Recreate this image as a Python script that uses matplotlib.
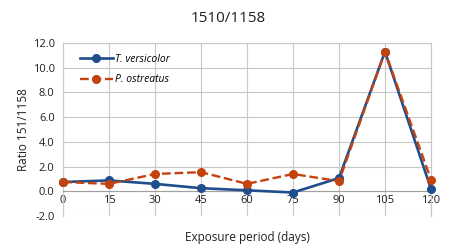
import numpy as np
import matplotlib
matplotlib.use("Agg")
import matplotlib.pyplot as plt

days = [0, 15, 30, 45, 60, 75, 90, 105, 120]
versicolor = [0.75, 0.88, 0.6, 0.25, 0.08, -0.1, 1.07, 11.3, 0.18]
ostreatus = [0.75, 0.6, 1.4, 1.55, 0.6, 1.4, 0.82, 11.3, 0.95]
y_ticks = np.arange(-2, 12.1, 2)

plt.rcParams['font.family'] = ['Open Sans', 'DejaVu Sans']

fig = plt.figure(figsize=(4.54, 2.49), dpi=100)
ax = fig.add_axes([63 / 454, 1 - 216 / 249, (431 - 63) / 454, (216 - 43) / 249])

ax.plot(days, versicolor, color='#1f4e8c', lw=1.9, marker='o', ms=5.5,
        label='T. versicolor', zorder=3)
ax.plot(days, ostreatus, color='#c4420e', lw=1.7, ls='--', marker='o', ms=5.5,
        label='P. ostreatus', zorder=4)

ax.set_xlim(0, 120)
ax.set_ylim(-2, 12)
ax.set_xticks(days)
ax.set_yticks(y_ticks)
ax.set_yticklabels([f'{v:.1f}' for v in y_ticks])
ax.grid(True, color='#c8c8c8', lw=0.8)
ax.set_axisbelow(True)

for s in ['top', 'right', 'left']:
    ax.spines[s].set_color('#c8c8c8')
ax.spines['bottom'].set_position(('data', 0))
ax.spines['bottom'].set_color('#a0a0a0')
ax.tick_params(length=0, labelsize=8, colors='#202020')
ax.tick_params(axis='x', pad=3)
ax.tick_params(axis='y', pad=6)
for ln in ax.lines:
    ln.set_clip_on(False)

ax.set_ylabel('Ratio 151/1158', fontsize=8.5, color='#202020')
ax.yaxis.set_label_coords(-0.09, 0.5)
fig.text(247 / 454, 1 - 237 / 249, 'Exposure period (days)', ha='center',
         va='center', fontsize=8.5, color='#202020')
fig.text(228 / 454, 1 - 18 / 249, '1510/1158', ha='center', va='center',
         fontsize=11, color='#202020')

leg = ax.legend(loc='upper left', bbox_to_anchor=(0.02, 0.99), frameon=False,
                prop={'style': 'italic', 'size': 7.5}, handlelength=3.2,
                labelspacing=0.9, handletextpad=0.2)

fig.savefig('out.png', dpi=100)
